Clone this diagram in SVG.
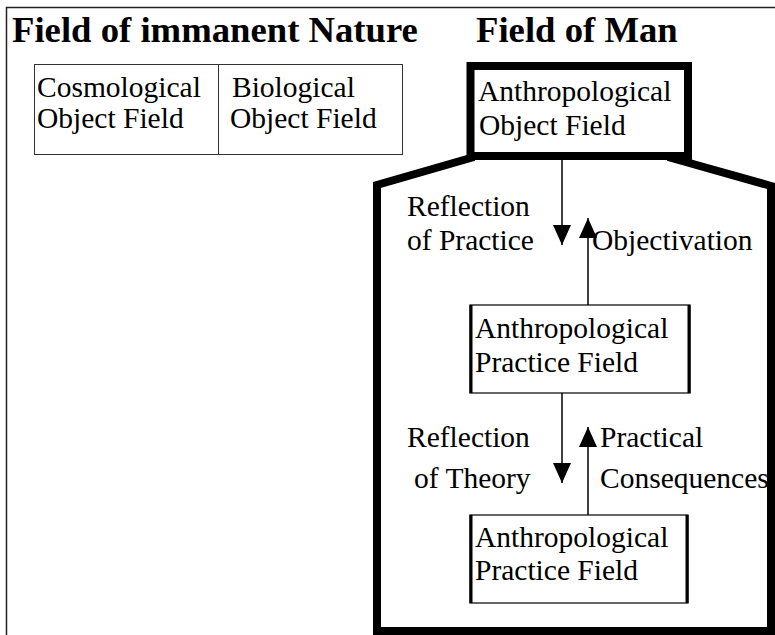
<svg xmlns="http://www.w3.org/2000/svg" width="775" height="635" viewBox="0 0 775 635">
<defs>
<style>
text{font-family:"Liberation Serif","Times New Roman",serif;fill:#000}
.title{font-size:36.7px;font-weight:bold}
.t{font-size:29.5px}
.thin{fill:none;stroke:#333;stroke-width:1}
.box{fill:#fff;stroke:#000;stroke-width:1.2}
.side{stroke:#000;stroke-width:3}
.thick{fill:none;stroke:#000;stroke-width:8;stroke-linejoin:miter}
.conn{stroke:#000;stroke-width:1.5;fill:none}
</style>
<marker id="ah" markerUnits="userSpaceOnUse" markerWidth="20" markerHeight="22" refX="20" refY="9" orient="auto" viewBox="0 0 20 18">
<path d="M0,0 L20,9 L0,18 Z" fill="#000"/>
</marker>
</defs>
<rect width="775" height="635" fill="#fff"/>
<path d="M6.5,635 V7.5 H775" fill="none" stroke="#222" stroke-width="1.5"/>
<g id="titles">
<text class="title" x="12" y="42">Field of immanent Nature</text>
<text class="title" x="476" y="42">Field of Man</text>
</g>
<g id="man-frame">
<path class="thick" d="M474,157 L377,185 V631 H771 V186 L668,157"/>
</g>
<g id="cosmological">
<rect class="thin" x="34.5" y="64.5" width="184" height="90"/>
<text class="t" x="37" y="97">Cosmological</text>
<text class="t" x="37" y="128">Object Field</text>
</g>
<g id="biological">
<rect class="thin" x="218.5" y="64.5" width="184" height="90"/>
<text class="t" x="232" y="97">Biological</text>
<text class="t" x="230" y="128">Object Field</text>
</g>
<g id="anthro-object">
<path class="thick" d="M470.5,156 V66 H688 V156 Z" fill="#fff"/>
<text class="t" x="478" y="101">Anthropological</text>
<text class="t" x="479" y="135">Object Field</text>
</g>
<g id="anthro-practice-1">
<rect class="box" x="470" y="305" width="220" height="88"/>
<line class="side" x1="471" y1="305" x2="471" y2="393"/>
<line class="side" x1="689" y1="305" x2="689" y2="393"/>
<text class="t" x="475" y="338">Anthropological</text>
<text class="t" x="475" y="372">Practice Field</text>
</g>
<g id="anthro-practice-2">
<rect class="box" x="470" y="515" width="218" height="88"/>
<line class="side" x1="471" y1="515" x2="471" y2="603"/>
<line class="side" x1="687" y1="515" x2="687" y2="603"/>
<text class="t" x="475" y="547">Anthropological</text>
<text class="t" x="475" y="580">Practice Field</text>
</g>
<g id="connectors">
<line class="conn" x1="562" y1="160" x2="562" y2="245" marker-end="url(#ah)"/>
<line class="conn" x1="588" y1="305" x2="588" y2="218" marker-end="url(#ah)"/>
<line class="conn" x1="562" y1="393" x2="562" y2="483" marker-end="url(#ah)"/>
<line class="conn" x1="588" y1="515" x2="588" y2="427" marker-end="url(#ah)"/>
</g>
<g id="labels">
<text class="t" x="407" y="216">Reflection</text>
<text class="t" x="407" y="250">of Practice</text>
<text class="t" x="592" y="250">Objectivation</text>
<text class="t" x="407" y="447">Reflection</text>
<text class="t" x="414" y="488">of Theory</text>
<text class="t" x="600" y="447">Practical</text>
<text class="t" x="600" y="488">Consequences</text>
</g>
</svg>
